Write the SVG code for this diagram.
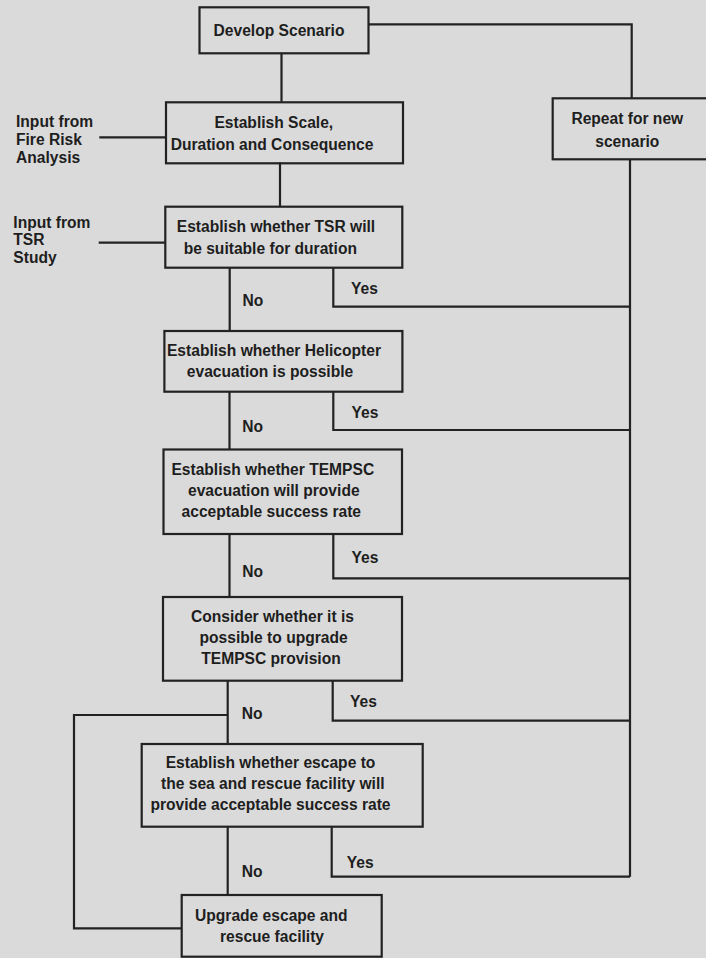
<svg xmlns="http://www.w3.org/2000/svg" width="706" height="958" viewBox="0 0 706 958">
<style>
.bg{fill:#dadada}
.box{fill:none;stroke:#222;stroke-width:2.2}
.ln{fill:none;stroke:#222;stroke-width:2.2}
text{font-family:"Liberation Sans",Arial,Helvetica,sans-serif;font-weight:bold;font-size:15.6px;fill:#1e1e1e}
.c{text-anchor:middle}
</style>
<rect class="bg" x="0" y="0" width="706" height="958"/>
<g id="connectors">
<path class="ln" d="M281.5 53.3V101.7"/>
<path class="ln" d="M368.5 24.3H631.7V98.3"/>
<path class="ln" d="M630 159.3V876.7"/>
<path class="ln" d="M99.3 137.3H166"/>
<path class="ln" d="M280 162.3V206.7"/>
<path class="ln" d="M98.7 242.7H165.3"/>
<path class="ln" d="M229.7 267.7V331"/>
<path class="ln" d="M333.3 267.7V306.7H630"/>
<path class="ln" d="M229.5 391.7V449.5"/>
<path class="ln" d="M333.3 391.7V430H630"/>
<path class="ln" d="M229.5 534V597"/>
<path class="ln" d="M333.3 534V578.3H630"/>
<path class="ln" d="M227.7 680.7V744"/>
<path class="ln" d="M227.7 715H74V928.3H181.7"/>
<path class="ln" d="M332.7 680.7V720.7H630"/>
<path class="ln" d="M227.7 826.7V895"/>
<path class="ln" d="M331.7 826.7V876.7H630"/>
<text x="351" y="293.5">Yes</text>
<text x="242.5" y="305.5">No</text>
<text x="351.5" y="418.3">Yes</text>
<text x="242.3" y="431.7">No</text>
<text x="351.5" y="563.3">Yes</text>
<text x="242.3" y="576.7">No</text>
<text x="350" y="706.7">Yes</text>
<text x="241.7" y="719.3">No</text>
<text x="346.7" y="868.3">Yes</text>
<text x="241.7" y="876.7">No</text>
</g>
<g id="develop">
<rect class="box" x="199.5" y="7.3" width="169" height="46"/>
<text class="c" x="279" y="36">Develop Scenario</text>
</g>
<g id="repeat">
<rect class="box" x="552.7" y="98.3" width="160" height="61"/>
<text class="c" x="627.3" y="124">Repeat for new</text>
<text class="c" x="627.3" y="146.7">scenario</text>
</g>
<g id="input-fire">
<text x="16" y="127.3">Input from</text>
<text x="16" y="145">Fire Risk</text>
<text x="16" y="162.7">Analysis</text>
</g>
<g id="scale">
<rect class="box" x="166" y="102.3" width="237" height="61"/>
<text class="c" x="273.8" y="127.7">Establish Scale,</text>
<text class="c" x="272" y="150">Duration and Consequence</text>
</g>
<g id="input-tsr">
<text x="13.3" y="227.7">Input from</text>
<text x="13.3" y="245">TSR</text>
<text x="13.3" y="263.3">Study</text>
</g>
<g id="tsr">
<rect class="box" x="165.3" y="206.7" width="237" height="61"/>
<text class="c" x="276" y="231.5">Establish whether TSR will</text>
<text class="c" x="270.3" y="253.5">be suitable for duration</text>
</g>
<g id="helicopter">
<rect class="box" x="164.4" y="331" width="238" height="60.7"/>
<text class="c" x="274" y="355.5">Establish whether Helicopter</text>
<text class="c" x="270" y="377">evacuation is possible</text>
</g>
<g id="tempsc">
<rect class="box" x="163.5" y="449.5" width="238.5" height="84.5"/>
<text class="c" x="272.8" y="475">Establish whether TEMPSC</text>
<text class="c" x="273.8" y="495.5">evacuation will provide</text>
<text class="c" x="271.3" y="516.7">acceptable success rate</text>
</g>
<g id="consider">
<rect class="box" x="163" y="597" width="239" height="83.7"/>
<text class="c" x="272.5" y="622">Consider whether it is</text>
<text class="c" x="273.6" y="643">possible to upgrade</text>
<text class="c" x="271" y="664">TEMPSC provision</text>
</g>
<g id="escape">
<rect class="box" x="141.7" y="744" width="281" height="82.7"/>
<text class="c" x="270.5" y="767.7">Establish whether escape to</text>
<text class="c" x="272.8" y="789.3">the sea and rescue facility will</text>
<text class="c" x="270.5" y="810">provide acceptable success rate</text>
</g>
<g id="upgrade">
<rect class="box" x="181.7" y="895" width="200" height="61.7"/>
<text class="c" x="271.3" y="921">Upgrade escape and</text>
<text class="c" x="272" y="941.7">rescue facility</text>
</g>
</svg>
